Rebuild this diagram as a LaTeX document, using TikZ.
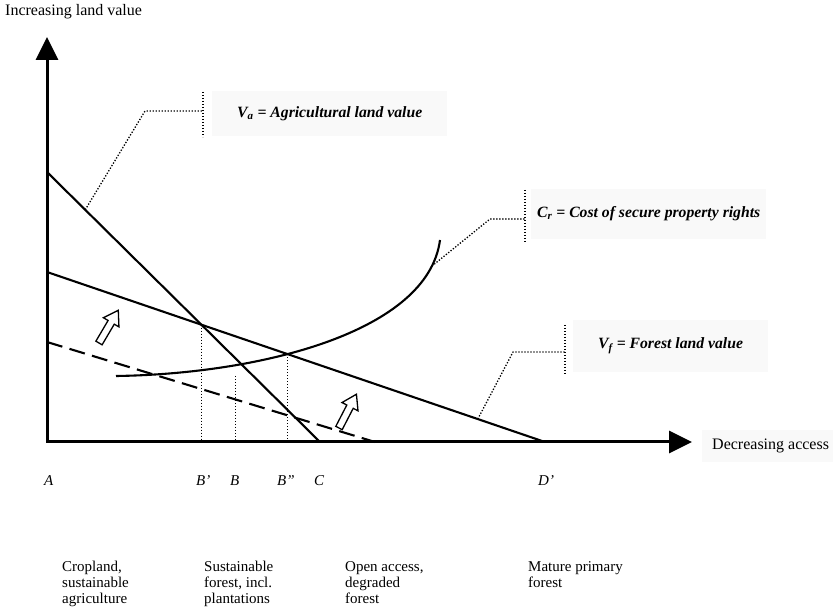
\documentclass[tikz,border=0pt]{standalone}
\usepackage{fontspec}
\setmainfont{Liberation Serif}
\usetikzlibrary{arrows.meta,intersections}
\begin{document}
\begin{tikzpicture}[x=1pt,y=-1pt,
  axis/.style={line width=3pt},
  curve/.style={line width=2.1pt},
  leader/.style={line width=1.3pt, dash pattern=on 1.3pt off 1.7pt},
  guide/.style={line width=1pt, dash pattern=on 1pt off 2pt},
  lbl/.style={font=\fontsize{16}{17}\selectfont, inner sep=0pt, anchor=west},
  keylbl/.style={font=\fontsize{15.7}{17}\selectfont\bfseries\itshape, anchor=west, fill=black!2.5, inner ysep=0pt},
  ptlbl/.style={font=\fontsize{15}{16}\selectfont\itshape, inner sep=0pt, anchor=west},
  zone/.style={font=\fontsize{15}{16}\selectfont, align=left, inner sep=0pt, anchor=north west},
  hollowarrow/.pic={\draw[line width=1.3pt, fill=white, line join=miter]
    (0,-3.6) -- (24,-3.6) -- (24,-9) -- (38,0) -- (24,9) -- (24,3.6) -- (0,3.6) -- cycle;},
]
\useasboundingbox (0,0) rectangle (833,609);

% axes
\coordinate (O) at (47,442);
\coordinate (Ytip) at (47,37);
\coordinate (Xtip) at (692,442);
\draw[axis, line join=miter, {Triangle[length=23pt,width=22pt]}-{Triangle[length=23pt,width=22pt]}]
  (Ytip) -- (O) -- (Xtip);
\node[lbl] (ylab) at (5,12) {Increasing land value};
\node[lbl, fill=black!2.5, inner xsep=10pt, minimum height=32pt] (xlab) at (702,446) {Decreasing access};

% value lines
\coordinate (VaTop) at (47,172);
\coordinate (C) at (320,442);
\coordinate (VfTop) at (47,272);
\coordinate (D) at (545,442);
\coordinate (VoTop) at (47,342);
\coordinate (VoEnd) at (375,442);
\draw[curve, name path=va] (VaTop) -- (C) coordinate[pos=0.14] (vapt);
\draw[curve, name path=vf] (VfTop) -- (D) coordinate[pos=0.865] (vfpt);
\draw[curve, dash pattern=on 16pt off 7.5pt] (VoTop) -- (VoEnd);

% cost of property rights
\coordinate (CrStart) at (116,376);
\coordinate (CrEnd) at (440,240);
\draw[curve, name path=cr] (CrStart) .. controls (260,374) and (428,332) .. (CrEnd)
  coordinate[pos=0.9] (crpt);

% guides down to the access axis
\path[name intersections={of=va and vf, by=Bp}];
\path[name intersections={of=cr and vf, by=Bpp}];
\coordinate (Btop) at (235,376);
\draw[guide] (Bp) -- (Bp |- O);
\draw[guide] (Btop) -- (Btop |- O);
\draw[guide] (Bpp) -- (Bpp |- O);

% shift arrows
\pic[rotate=59.5] at (99,343) {hollowarrow};
\pic[rotate=62.7] at (339,428) {hollowarrow};

% key labels with leaders
\coordinate (vaknee) at (145,111);
\coordinate (vatick) at (203,111);
\coordinate (vatickT) at (203,92);
\coordinate (vatickB) at (203,137);
\draw[leader] (vapt) -- (vaknee) -- (vatick);
\draw[leader] (vatickT) -- (vatickB);
\node[keylbl, inner xsep=25pt, minimum height=45pt] (valab) at (212,114)
  {V\textsubscript{a} = Agricultural land  value};

\coordinate (crknee) at (490,219);
\coordinate (crtick) at (525,219);
\coordinate (crtickT) at (525,190);
\coordinate (crtickB) at (525,242);
\draw[leader] (crpt) -- (crknee) -- (crtick);
\draw[leader] (crtickT) -- (crtickB);
\node[keylbl, inner xsep=6pt, minimum height=50pt] (crlab) at (531,214)
  {C\textsubscript{r} = Cost of secure property rights};

\coordinate (vfknee) at (513,352);
\coordinate (vftick) at (565,352);
\coordinate (vftickT) at (565,325);
\coordinate (vftickB) at (565,375);
\draw[leader] (vfpt) -- (vfknee) -- (vftick);
\draw[leader] (vftickT) -- (vftickB);
\node[keylbl, inner xsep=25pt, minimum height=52pt] (vflab) at (573,346)
  {V\textsubscript{f} = Forest land value};

% points on the access axis
\node[ptlbl] (A) at (44,481) {A};
\node[ptlbl] (Bprime) at (196,481) {B'};
\node[ptlbl] (B) at (230,481) {B};
\node[ptlbl] (Bdprime) at (277,481) {B''};
\node[ptlbl] (Cl) at (314,481) {C};
\node[ptlbl] (Dprime) at (538,481) {D'};

% land use zones
\node[zone] (z1) at (62,561) {Cropland,\\sustainable\\agriculture};
\node[zone] (z2) at (204,561) {Sustainable\\forest, incl.\\plantations};
\node[zone] (z3) at (345,561) {Open access,\\degraded\\forest};
\node[zone] (z4) at (528,561) {Mature primary\\forest};
\end{tikzpicture}
\end{document}
